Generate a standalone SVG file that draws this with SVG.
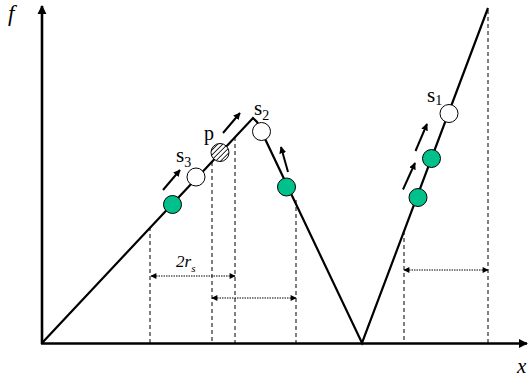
<svg xmlns="http://www.w3.org/2000/svg" width="530" height="381" viewBox="0 0 530 381">
<style>
.ax{stroke:#000;stroke-width:2.6;fill:none}
.cv{stroke:#000;stroke-width:2.2;fill:none;stroke-linejoin:miter}
.dash{stroke:#000;stroke-width:1;stroke-dasharray:4,3;fill:none}
.dot{stroke:#000;stroke-width:1;stroke-dasharray:1.5,1;fill:none}
.mv{stroke:#000;stroke-width:2;fill:none}
.green{fill:#00C08B;stroke:#000;stroke-width:1}
.white{fill:#fff;stroke:#000;stroke-width:1}
.lbl{font-family:"Liberation Serif",serif;fill:#000}
.it{font-family:"Liberation Serif",serif;font-style:italic;fill:#000}
</style>
<defs>
<marker id="axh" viewBox="0 0 10 10" refX="9" refY="5" markerWidth="3.6" markerHeight="3.6" orient="auto" markerUnits="strokeWidth"><path d="M0,0 L10,5 L0,10 z" fill="#000"/></marker>
<marker id="mh" viewBox="0 0 10 10" refX="9" refY="5" markerWidth="3.5" markerHeight="3.5" orient="auto" markerUnits="strokeWidth"><path d="M0,0 L10,5 L0,10 z" fill="#000"/></marker>
<marker id="dh" viewBox="0 0 10 10" refX="9" refY="5" markerWidth="7" markerHeight="6" orient="auto-start-reverse" markerUnits="strokeWidth"><path d="M0,0 L10,5 L0,10 z" fill="#000"/></marker>
<pattern id="hatch" patternUnits="userSpaceOnUse" width="3.5" height="3.5" patternTransform="rotate(-45)"><rect width="3.5" height="3.5" fill="#fff"/><line x1="0" y1="0" x2="3.5" y2="0" stroke="#000" stroke-width="1.6"/></pattern>
</defs>
<g id="connectors">
<g id="guides">
<line class="dash" x1="150" y1="227" x2="150" y2="343"/>
<line class="dash" x1="212" y1="162" x2="212" y2="343"/>
<line class="dash" x1="235" y1="137" x2="235" y2="343"/>
<line class="dash" x1="296" y1="200" x2="296" y2="343"/>
<line class="dash" x1="404" y1="231" x2="404" y2="343"/>
<line class="dash" x1="488" y1="10" x2="488" y2="343"/>
<line class="dot" x1="151" y1="276" x2="235" y2="276" marker-start="url(#dh)" marker-end="url(#dh)"/>
<line class="dot" x1="212" y1="298" x2="296" y2="298" marker-start="url(#dh)" marker-end="url(#dh)"/>
<line class="dot" x1="404" y1="270" x2="488" y2="270" marker-start="url(#dh)" marker-end="url(#dh)"/>
</g>
<line class="ax" x1="42" y1="344" x2="42" y2="6" marker-end="url(#axh)"/>
<line class="ax" x1="41" y1="343.5" x2="527" y2="343.5" marker-end="url(#axh)"/>
<polyline class="cv" points="42,343 253,118 257,122 362,343 488,8"/>
<line class="mv" x1="163" y1="190" x2="180" y2="170" marker-end="url(#mh)"/>
<line class="mv" x1="223" y1="133" x2="240" y2="113" marker-end="url(#mh)"/>
<line class="mv" x1="288" y1="172" x2="281" y2="147" marker-end="url(#mh)"/>
<line class="mv" x1="415.5" y1="151" x2="427" y2="124" marker-end="url(#mh)"/>
<line class="mv" x1="403" y1="189.5" x2="415" y2="163" marker-end="url(#mh)"/>
</g>
<g id="node-g1"><circle class="green" cx="172.5" cy="204.5" r="9"/></g>
<g id="node-s3"><circle class="white" cx="196" cy="177" r="9"/><text class="lbl" x="176" y="162" font-size="21">s<tspan font-size="14" dy="5">3</tspan></text></g>
<g id="node-p"><circle cx="220" cy="152.5" r="9" fill="url(#hatch)" stroke="#000" stroke-width="1"/><text class="lbl" x="204" y="140" font-size="20">p</text></g>
<g id="node-s2"><circle class="white" cx="261.5" cy="131.5" r="9"/><text class="lbl" x="254" y="115" font-size="21">s<tspan font-size="14" dy="5">2</tspan></text></g>
<g id="node-g2"><circle class="green" cx="286.5" cy="187" r="9"/></g>
<g id="node-s1"><circle class="white" cx="449" cy="113.5" r="9"/><text class="lbl" x="427" y="102" font-size="21">s<tspan font-size="14" dy="3">1</tspan></text></g>
<g id="node-g3"><circle class="green" cx="431.5" cy="158.5" r="9"/></g>
<g id="node-g4"><circle class="green" cx="418" cy="197.5" r="9"/></g>
<text class="it" x="8" y="21" font-size="23">f</text>
<text class="it" x="517" y="373" font-size="21">x</text>
<text class="it" x="176" y="267" font-size="17">2r<tspan font-size="11" dy="5">s</tspan></text>
</svg>
